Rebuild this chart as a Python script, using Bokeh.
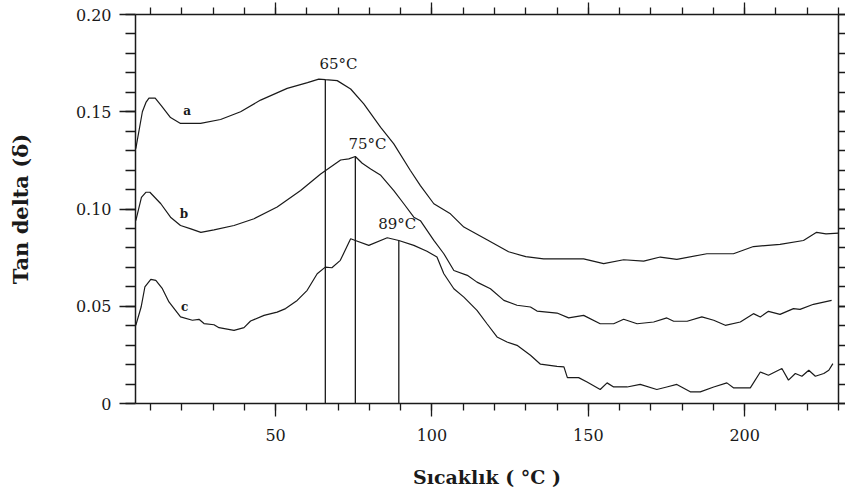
from bokeh.plotting import figure
from bokeh.models import FixedTicker, LinearAxis, Range1d, CustomJSTickFormatter
from bokeh.core.properties import value
from bokeh.embed import file_html
from bokeh.resources import INLINE

# ---- data ----
curve_a = [(5.3, 0.131), (7.4, 0.150), (8.6, 0.155), (9.5, 0.157), (11.5, 0.157), (13.5, 0.153),
           (16.4, 0.147), (19.6, 0.144), (26.0, 0.144), (32.4, 0.146), (38.8, 0.150), (45.2, 0.156),
           (53.7, 0.162), (60.2, 0.165), (63.8, 0.1668), (65.9, 0.1665), (69.7, 0.166), (74.0, 0.1617),
           (78.2, 0.154), (83.6, 0.142), (87.8, 0.1335), (93.1, 0.1198), (96.3, 0.112), (100.6, 0.1027),
           (105.9, 0.0975), (110.2, 0.0907), (117.6, 0.0842), (124.5, 0.0780), (130.0, 0.0755),
           (135.7, 0.0744), (148.5, 0.0744), (154.9, 0.0719), (161.3, 0.0739), (167.7, 0.0732),
           (173.0, 0.0753), (178.3, 0.0741), (187.9, 0.077), (196.4, 0.077), (202.8, 0.0807),
           (211.3, 0.0818), (218.8, 0.0838), (223.0, 0.088), (226.0, 0.0872), (230.0, 0.0876)]

curve_b = [(5.3, 0.094), (7.1, 0.106), (8.5, 0.1086), (9.8, 0.1086), (13.3, 0.1027), (16.4, 0.0958),
           (19.6, 0.0915), (22.9, 0.0898), (26.1, 0.088), (30.3, 0.0893), (36.7, 0.0915), (43.1, 0.095),
           (50.5, 0.101), (58.0, 0.1095), (64.4, 0.118), (70.8, 0.1252), (73.4, 0.1258), (75.5, 0.127),
           (77.7, 0.1235), (80.4, 0.1206), (83.5, 0.1175), (87.8, 0.1095), (91.0, 0.1027), (94.2, 0.0958),
           (96.3, 0.094), (100.6, 0.0839), (103.8, 0.077), (107.0, 0.0684), (111.3, 0.0659),
           (114.4, 0.0624), (118.7, 0.059), (123.0, 0.053), (127.2, 0.0505), (131.5, 0.0496),
           (133.6, 0.0475), (140.0, 0.0465), (143.7, 0.044), (148.5, 0.0453), (153.8, 0.041),
           (158.1, 0.041), (161.3, 0.0433), (165.6, 0.041), (170.9, 0.0419), (175.1, 0.044),
           (177.3, 0.0423), (181.6, 0.0423), (186.3, 0.0445), (190.1, 0.0428), (193.8, 0.0402),
           (198.6, 0.0419), (202.8, 0.0462), (205.0, 0.0445), (207.6, 0.0474), (211.3, 0.0458),
           (215.6, 0.0488), (217.7, 0.0484), (222.0, 0.051), (227.8, 0.053)]

curve_c = [(5.3, 0.0402), (7.0, 0.0496), (8.2, 0.0599), (10.1, 0.0638), (11.7, 0.0633), (13.8, 0.059),
           (15.9, 0.0522), (19.6, 0.0445), (23.4, 0.0428), (25.5, 0.0433), (27.1, 0.0411), (30.3, 0.0405),
           (31.9, 0.039), (36.7, 0.0376), (39.9, 0.039), (42.0, 0.0424), (46.3, 0.0453), (50.5, 0.047),
           (53.2, 0.0488), (56.9, 0.053), (60.1, 0.0582), (63.3, 0.0667), (65.9, 0.0701), (68.0, 0.0698),
           (70.7, 0.0736), (74.0, 0.0847), (75.5, 0.0838), (79.8, 0.0813), (85.7, 0.0852),
           (89.4, 0.0838), (94.2, 0.0813), (98.4, 0.0783), (101.6, 0.0753), (103.8, 0.0667),
           (107.0, 0.059), (110.2, 0.0547), (114.4, 0.0479), (117.6, 0.041), (120.8, 0.0342),
           (124.0, 0.0316), (127.2, 0.0299), (131.5, 0.0248), (134.7, 0.0202), (140.0, 0.0191),
           (142.2, 0.0188), (143.3, 0.0133), (146.9, 0.0133), (149.6, 0.0111), (153.8, 0.0072),
           (156.0, 0.0106), (158.1, 0.0085), (162.4, 0.0085), (166.6, 0.0098), (171.9, 0.0072),
           (175.1, 0.0085), (178.3, 0.0098), (182.6, 0.006), (185.8, 0.006), (190.1, 0.0085),
           (194.3, 0.0106), (196.5, 0.008), (201.8, 0.008), (205.0, 0.0162), (207.6, 0.0145),
           (211.9, 0.018), (214.0, 0.012), (216.2, 0.0154), (218.3, 0.014), (220.5, 0.0171),
           (222.6, 0.014), (225.3, 0.0154), (226.9, 0.0171), (228.2, 0.0205)]

curve_names = ["a", "b", "c"]
curve_label_x = [21.7, 20.7, 20.9]
curve_label_y = [0.1502, 0.0972, 0.0496]

peak_labels = ["65°C", "75°C", "89°C"]
peak_x = [65.9, 75.5, 89.4]
peak_top = [0.1665, 0.127, 0.0838]
peak_label_x = [70.1, 79.4, 88.9]
peak_label_y = [0.1748, 0.1336, 0.0925]

x_ticks = [50, 100, 150, 200]
x_tick_labels = ["50", "100", "150", "200"]
x_minor = list(range(10, 231, 10))
y_ticks = [0, 0.05, 0.1, 0.15, 0.2]
y_tick_labels = ["0", "0.05", "0.10", "0.15", "0.20"]
y_minor = [round(i * 0.01, 2) for i in range(0, 21)]

x_title = "Sıcaklık ( °C )"
y_title = "Tan delta (δ)"

# ---- figure ----
FONT = "DejaVu Serif"
INK = "#1a1a1a"

p = figure(width=845, height=493, output_backend="svg", toolbar_location=None,
           x_range=Range1d(5.2, 230), y_range=Range1d(0, 0.2),
           x_axis_location=None, y_axis_location=None,
           min_border_left=135, min_border_top=14, min_border_right=7, min_border_bottom=90)
p.outline_line_color = None
p.xgrid.visible = False
p.ygrid.visible = False
p.background_fill_color = "white"
p.border_fill_color = "white"

blank = CustomJSTickFormatter(code="return ''")

def style(ax, out_major, out_minor, labels=True):
    ax.axis_line_color = INK
    ax.axis_line_width = 1.5
    ax.major_tick_line_color = INK
    ax.minor_tick_line_color = INK
    ax.major_tick_line_width = 1.3
    ax.minor_tick_line_width = 1.3
    ax.major_tick_in = 0
    ax.minor_tick_in = 0
    ax.major_tick_out = out_major
    ax.minor_tick_out = out_minor
    if not labels:
        ax.formatter = blank
        ax.major_label_text_font_size = "0px"
        ax.major_label_standoff = 0
    else:
        ax.major_label_text_font = FONT
        ax.major_label_text_font_size = "16px"
        ax.major_label_text_color = INK

xb = LinearAxis(ticker=FixedTicker(ticks=x_ticks, minor_ticks=x_minor),
                major_label_overrides=dict(zip(x_ticks, x_tick_labels)))
style(xb, 13, 7)
xb.major_label_standoff = 12
xb.axis_label = x_title
xb.axis_label_text_font = FONT
xb.axis_label_text_font_style = "bold"
xb.axis_label_text_font_size = "19px"
xb.axis_label_text_color = INK
xb.axis_label_standoff = 22
p.add_layout(xb, "below")

xt = LinearAxis(ticker=FixedTicker(ticks=x_ticks, minor_ticks=x_minor))
style(xt, 12, 7, labels=False)
p.add_layout(xt, "above")

yl = LinearAxis(ticker=FixedTicker(ticks=y_ticks, minor_ticks=y_minor),
                major_label_overrides=dict(zip(y_ticks, y_tick_labels)))
style(yl, 16, 10)
yl.major_label_standoff = 8
yl.axis_label = y_title
yl.axis_label_text_font = FONT
yl.axis_label_text_font_style = "bold"
yl.axis_label_text_font_size = "21px"
yl.axis_label_text_color = INK
yl.axis_label_standoff = 40
p.add_layout(yl, "left")

yr = LinearAxis(ticker=FixedTicker(ticks=y_ticks, minor_ticks=y_minor))
style(yr, 7, 7, labels=False)
p.add_layout(yr, "right")

# curves
for curve in (curve_a, curve_b, curve_c):
    xs = [pt[0] for pt in curve]
    ys = [pt[1] for pt in curve]
    p.line(xs, ys, line_color=INK, line_width=1.2)

# vertical peak markers
p.segment(x0=peak_x, y0=[0] * len(peak_x), x1=peak_x, y1=peak_top, line_color=INK, line_width=1.3)

p.text(x=peak_label_x, y=peak_label_y, text=peak_labels, text_font=value(FONT),
       text_font_size="15px", text_color=INK, text_align="center", text_baseline="middle")

p.text(x=curve_label_x, y=curve_label_y, text=curve_names, text_font=value(FONT),
       text_font_size="12px", text_font_style="bold", text_color=INK,
       text_align="center", text_baseline="middle")

open("out.html", "w").write(file_html(p, INLINE))
